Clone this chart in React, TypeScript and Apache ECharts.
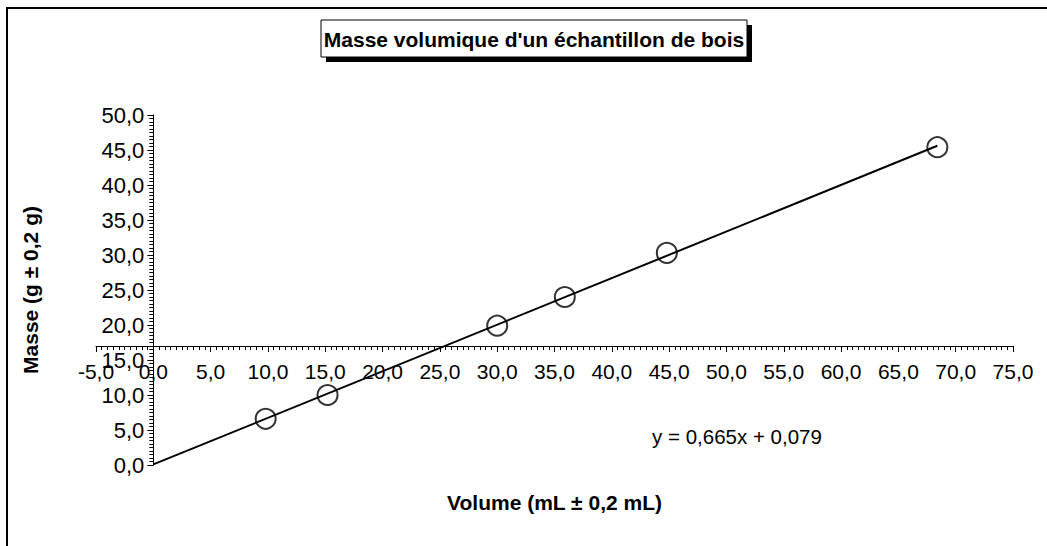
import React, { useEffect, useRef } from "react";
import * as echarts from "echarts";

// ---- data ----
const volumes = [9.8, 15.2, 30.0, 35.9, 44.8, 68.4];
const masses = [6.6, 10.0, 19.9, 24.0, 30.3, 45.4];
const trendX = [0, 68.4];
const trendY = [0.08, 45.6];

const titleText = "Masse volumique d'un échantillon de bois";
const xName = "Volume (mL ± 0,2 mL)";
const yName = "Masse (g ± 0,2 g)";
const equationText = "y = 0,665x + 0,079";

const X_MIN = -5;
const X_MAX = 75;
const X_STEP = 5;
const Y_MIN = 0;
const Y_MAX = 50;
const Y_STEP = 5;
const X_AXIS_CROSS = 17; // x axis crosses the y axis at y = 17
const Y_AXIS_CROSS = 0; // y axis crosses the x axis at x = 0

const W = 1047;
const H = 546;
const FONT = "'Liberation Sans', Arial, Helvetica, sans-serif";

const GRID = { left: 96, right: 34, top: 115, bottom: 81 };

const fmt = (v: number) => v.toFixed(1).replace(".", ",");

export default function App() {
  const ref = useRef<HTMLDivElement>(null);
  useEffect(() => {
    if (!ref.current) return;
    const chart = echarts.init(ref.current, undefined, { renderer: "svg" });
    const gridH = H - GRID.top - GRID.bottom;
    const gridW = W - GRID.left - GRID.right;
    const xOffset = -((X_AXIS_CROSS - Y_MIN) / (Y_MAX - Y_MIN)) * gridH;
    const yOffset = -((Y_AXIS_CROSS - X_MIN) / (X_MAX - X_MIN)) * gridW;

    const points = volumes.map((v, i) => [v, masses[i]]);
    const trend = trendX.map((v, i) => [v, trendY[i]]);

    const tickCommon = {
      axisTick: { show: true, inside: false, length: 6, lineStyle: { color: "#000", width: 1 } },
      minorTick: { show: true, splitNumber: 10, length: 4, lineStyle: { color: "#000", width: 1 } },
      splitLine: { show: false },
      minorSplitLine: { show: false },
    };

    chart.setOption({
      animation: false,
      backgroundColor: "#ffffff",
      grid: { ...GRID, containLabel: false, outerBoundsMode: "none" },
      xAxis: {
        type: "value",
        min: X_MIN,
        max: X_MAX,
        interval: X_STEP,
        position: "bottom",
        offset: xOffset,
        name: xName,
        nameLocation: "middle",
        nameGap: 146,
        nameTextStyle: { fontFamily: FONT, fontSize: 21, fontWeight: "bold", color: "#000" },
        axisLine: { show: true, onZero: false, lineStyle: { color: "#000", width: 1 } },
        ...tickCommon,
        axisLabel: {
          show: true,
          margin: 15,
          showMinLabel: true,
          showMaxLabel: true,
          fontFamily: FONT,
          fontSize: 21,
          color: "#000",
          formatter: (v: number) => fmt(v),
        },
      },
      yAxis: {
        type: "value",
        min: Y_MIN,
        max: Y_MAX,
        interval: Y_STEP,
        position: "left",
        offset: yOffset,
        name: yName,
        nameLocation: "middle",
        nameRotate: 90,
        nameGap: 112,
        nameTextStyle: { fontFamily: FONT, fontSize: 21, fontWeight: "bold", color: "#000" },
        axisLine: { show: true, onZero: false, lineStyle: { color: "#000", width: 1 } },
        ...tickCommon,
        axisLabel: {
          show: true,
          margin: 9,
          showMinLabel: true,
          showMaxLabel: true,
          fontFamily: FONT,
          fontSize: 22,
          color: "#000",
          formatter: (v: number) => fmt(v),
        },
      },
      series: [
        {
          type: "line",
          data: trend,
          symbol: "none",
          lineStyle: { color: "#000", width: 2 },
          z: 2,
          silent: true,
        },
        {
          type: "scatter",
          data: points,
          symbol: "circle",
          symbolSize: 20,
          itemStyle: { color: "rgba(0,0,0,0)", borderColor: "#000", borderWidth: 2 },
          z: 3,
        },
      ],
      graphic: [
        {
          type: "rect",
          shape: { x: 7, y: 8, width: W, height: H },
          style: { fill: "none", stroke: "#000", lineWidth: 2 },
          silent: true,
        },
        {
          type: "rect",
          shape: { x: 326, y: 25, width: 426, height: 37 },
          style: { fill: "#000" },
          silent: true,
        },
        {
          type: "rect",
          shape: { x: 321, y: 20, width: 426, height: 37 },
          style: { fill: "#fff", stroke: "#000", lineWidth: 1 },
          silent: true,
        },
        {
          type: "text",
          x: 534,
          y: 39,
          style: {
            text: titleText,
            fontFamily: FONT,
            fontSize: 21,
            fontWeight: "bold",
            fill: "#000",
            align: "center",
            verticalAlign: "middle",
          },
          silent: true,
        },
        {
          type: "text",
          x: 737,
          y: 436,
          style: {
            text: equationText,
            fontFamily: FONT,
            fontSize: 20.5,
            fill: "#000",
            align: "center",
            verticalAlign: "middle",
          },
          silent: true,
        },
      ],
    });
    return () => chart.dispose();
  }, []);
  return (
    <div
      ref={ref}
      style={{ position: "fixed", left: 0, top: 0, width: W, height: H, background: "#fff" }}
    />
  );
}
